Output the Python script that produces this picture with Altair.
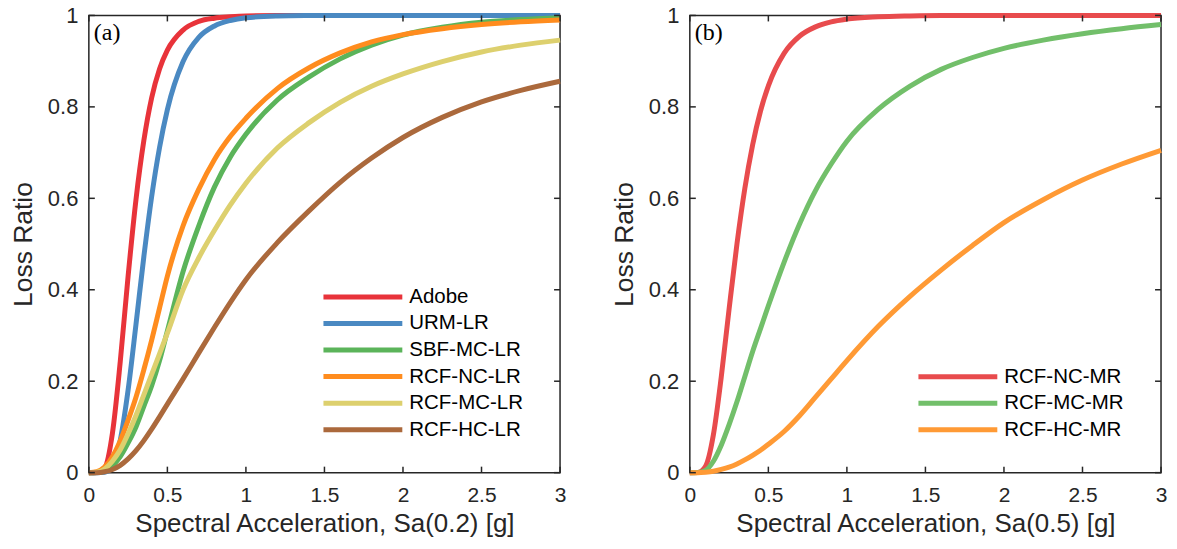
import altair as alt
import pandas as pd

# ---------------- data ----------------
X = [0, 0.05, 0.1, 0.15, 0.2, 0.25, 0.3, 0.35, 0.4, 0.45, 0.5, 0.6, 0.7, 0.8,
     0.9, 1.0, 1.2, 1.4, 1.6, 1.8, 2.0, 2.25, 2.5, 2.75, 3.0]

# panel (a)  Sa(0.2)
ADOBE = [0, 0.0005, 0.01, 0.086, 0.243, 0.43, 0.597, 0.726, 0.82, 0.883, 0.924, 0.968, 0.987, 0.994,
         0.997, 0.999, 1.0, 1.0, 1.0, 1.0, 1.0, 1.0, 1.0, 1.0, 1.0]
URM_LR = [0, 0.0, 0.001, 0.014, 0.071, 0.181, 0.324, 0.472, 0.604, 0.711, 0.794, 0.899, 0.952, 0.977,
          0.989, 0.995, 0.9987, 0.9997, 1.0, 1.0, 1.0, 1.0, 1.0, 1.0, 1.0]
SBF_MC_LR = [0, 0.0005, 0.004, 0.015, 0.035, 0.065, 0.10, 0.145, 0.19, 0.245, 0.31, 0.44, 0.54, 0.625,
             0.69, 0.74, 0.815, 0.865, 0.905, 0.935, 0.957, 0.974, 0.985, 0.991, 0.995]
RCF_NC_LR = [0, 0.002, 0.012, 0.035, 0.07, 0.115, 0.165, 0.225, 0.29, 0.36, 0.43, 0.54, 0.62, 0.685,
             0.735, 0.775, 0.84, 0.885, 0.918, 0.942, 0.958, 0.971, 0.980, 0.986, 0.99]
RCF_MC_LR = [0, 0.001, 0.008, 0.025, 0.05, 0.085, 0.125, 0.17, 0.215, 0.26, 0.305, 0.40, 0.47, 0.53,
             0.585, 0.633, 0.71, 0.765, 0.81, 0.845, 0.872, 0.899, 0.92, 0.935, 0.946]
RCF_HC_LR = [0, 0.0, 0.002, 0.007, 0.016, 0.03, 0.048, 0.07, 0.095, 0.122, 0.15, 0.205, 0.262, 0.318,
             0.372, 0.422, 0.503, 0.572, 0.635, 0.688, 0.733, 0.777, 0.811, 0.836, 0.856]

# panel (b)  Sa(0.5)
RCF_NC_MR = [0, 0.0002, 0.014, 0.083, 0.209, 0.358, 0.5, 0.621, 0.717, 0.791, 0.846, 0.917, 0.955, 0.975,
             0.986, 0.992, 0.997, 0.999, 1.0, 1.0, 1.0, 1.0, 1.0, 1.0, 1.0]
RCF_MC_MR = [0, 0.0005, 0.005, 0.025, 0.06, 0.105, 0.155, 0.21, 0.265, 0.315, 0.365, 0.46, 0.545, 0.617,
             0.675, 0.725, 0.795, 0.845, 0.882, 0.908, 0.928, 0.946, 0.96, 0.971, 0.98]
RCF_HC_MR = [0, 0.0, 0.001, 0.003, 0.007, 0.012, 0.019, 0.028, 0.038, 0.049, 0.062, 0.09, 0.125, 0.165,
             0.205, 0.245, 0.32, 0.385, 0.443, 0.497, 0.547, 0.597, 0.64, 0.675, 0.705]

NAMES_A = ["Adobe", "URM-LR", "SBF-MC-LR", "RCF-NC-LR", "RCF-MC-LR", "RCF-HC-LR"]
SERIES_A = [ADOBE, URM_LR, SBF_MC_LR, RCF_NC_LR, RCF_MC_LR, RCF_HC_LR]
COLORS_A = ["#E8333A", "#4A89C2", "#5BB45A", "#FF8C1E", "#DDD06E", "#AB693C"]

NAMES_B = ["RCF-NC-MR", "RCF-MC-MR", "RCF-HC-MR"]
SERIES_B = [RCF_NC_MR, RCF_MC_MR, RCF_HC_MR]
COLORS_B = ["#E84B4D", "#72BF6A", "#FF9A35"]

X_TICKS = [0, 0.5, 1, 1.5, 2, 2.5, 3]
Y_TICKS = [0, 0.2, 0.4, 0.6, 0.8, 1]

# ---------------- style ----------------
W, H = 472, 458
INK = "#262626"
FONT = "Liberation Sans"
TICK = 6


def panel(names, series, colors, xtitle, tag, leg_x, leg_y0, leg_y1):
    cscale = alt.Scale(domain=names, range=colors)
    xscale = alt.Scale(domain=[0, 3], nice=False, zero=False)
    yscale = alt.Scale(domain=[0, 1], nice=False)
    xaxis = alt.Axis(values=X_TICKS, format="~g", title=xtitle, ticks=False, domain=False,
                     grid=False, labelFlush=False, labelFontSize=21, labelFont=FONT,
                     labelColor=INK, labelPadding=12, titleFont=FONT, titleFontSize=26,
                     titleFontWeight="normal", titleColor=INK, titlePadding=5)
    yaxis = alt.Axis(values=Y_TICKS, format="~g", title="Loss Ratio", ticks=False, domain=False,
                     grid=False, labelFontSize=22, labelFont=FONT, labelColor=INK,
                     labelPadding=11, titleFont=FONT, titleFontSize=26.5,
                     titleFontWeight="normal", titleColor=INK, titlePadding=10)
    layers = []
    for n, s in zip(names, series):
        d = pd.DataFrame({"x": X, "v": s, "series": n})
        layers.append(
            alt.Chart(d).mark_line(strokeWidth=5, interpolate="monotone", clip=False).encode(
                x=alt.X("x:Q", scale=xscale, axis=xaxis),
                y=alt.Y("v:Q", scale=yscale, axis=yaxis),
                color=alt.Color("series:N", scale=cscale, legend=None),
            )
        )
    xt = pd.DataFrame({"x": X_TICKS})
    yt = pd.DataFrame({"v": Y_TICKS})
    rule = dict(color=INK, strokeWidth=1.5)
    layers += [
        alt.Chart(xt).mark_rule(**rule).encode(x=alt.X("x:Q", scale=xscale, axis=xaxis),
                                               y=alt.value(H), y2=alt.value(H - TICK)),
        alt.Chart(xt).mark_rule(**rule).encode(x=alt.X("x:Q", scale=xscale, axis=xaxis),
                                               y=alt.value(0), y2=alt.value(TICK)),
        alt.Chart(yt).mark_rule(**rule).encode(y=alt.Y("v:Q", scale=yscale, axis=yaxis),
                                               x=alt.value(0), x2=alt.value(TICK)),
        alt.Chart(yt).mark_rule(**rule).encode(y=alt.Y("v:Q", scale=yscale, axis=yaxis),
                                               x=alt.value(W), x2=alt.value(W - TICK)),
        alt.Chart(pd.DataFrame({"t": [tag]})).mark_text(
            align="left", baseline="middle", font="Liberation Serif", fontSize=24, color="black"
        ).encode(x=alt.value(5), y=alt.value(18), text="t:N"),
    ]
    main = alt.layer(*layers)

    leg = pd.DataFrame({"series": names})
    lscale = alt.Scale(type="point", domain=names, range=[leg_y0, leg_y1], padding=0)
    legend_rules = alt.Chart(leg).mark_rule(strokeWidth=5).encode(
        x=alt.value(leg_x), x2=alt.value(leg_x + 79),
        y=alt.Y("series:N", scale=lscale, axis=None),
        color=alt.Color("series:N", scale=cscale, legend=None),
    )
    legend_text = alt.Chart(leg).mark_text(
        align="left", baseline="middle", font=FONT, fontSize=20.5, color="black"
    ).encode(
        x=alt.value(leg_x + 86),
        y=alt.Y("series:N", scale=lscale, axis=None),
        text="series:N",
    )
    return alt.layer(main, legend_rules, legend_text).resolve_scale(y="independent").properties(
        width=W, height=H)


pa = panel(NAMES_A, SERIES_A, COLORS_A, "Spectral Acceleration, Sa(0.2) [g]", "(a)", 235, 282, 415)
pb = panel(NAMES_B, SERIES_B, COLORS_B, "Spectral Acceleration, Sa(0.5) [g]", "(b)", 229, 362, 415)

chart = alt.hconcat(pa, pb, spacing=130, bounds="flush").resolve_scale(
    color="independent"
).properties(
    padding={"left": 9, "top": 3, "right": 5, "bottom": 3}
).configure_view(stroke=INK, strokeWidth=1.5)

chart.save("out.html", embed_options={"renderer": "svg", "actions": False})
